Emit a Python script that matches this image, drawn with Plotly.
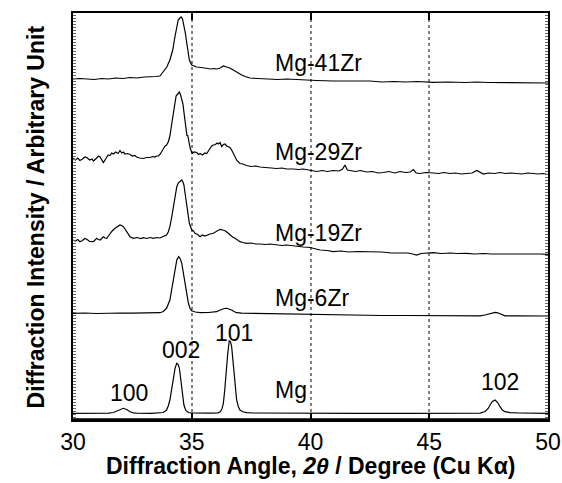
import plotly.graph_objects as go

# ---------------- data (2theta in degrees, intensity in arbitrary units, offset stacked) -------------
x41 = [30.0, 30.3, 30.6, 30.9, 31.2, 31.5, 31.8, 32.1, 32.4, 32.7, 33.0, 33.3, 33.5, 33.66, 33.8,
       33.95, 34.08, 34.2, 34.29, 34.36, 34.43, 34.5, 34.55, 34.61, 34.67, 34.73, 34.79, 34.85, 34.9,
       35.0, 35.1, 35.21, 35.4, 35.63, 35.8, 35.95, 36.05, 36.2, 36.33, 36.47, 36.6, 36.75, 36.9, 37.1,
       37.25, 37.45, 37.8, 38.15, 38.6, 39.0, 39.56, 40.26, 40.96, 41.5, 42.0, 42.5, 43.0, 43.5, 44.0,
       44.5, 45.17, 45.8, 46.5, 47.0, 47.5, 48.0, 48.5, 49.0, 49.5, 50.0]
y41 = [341, 341.5, 341, 340.5, 341.5, 341, 342, 341.5, 342.5, 342, 343, 343, 343.5, 344, 348,
       353, 360, 370, 383, 393, 400, 402, 403, 401, 395, 387, 377, 367, 360,
       355, 354, 353, 352.5, 352, 351, 351.5, 351, 352, 354, 353, 352, 350, 347.5, 345,
       343.5, 342, 341.5, 341, 340.5, 341, 340, 339.5, 339, 339, 338.5, 339, 338, 338.5, 338,
       338.5, 337.7, 338, 337.5, 338, 337.5, 337.5, 337, 337.5, 337, 337]

x29 = [30.0, 30.1, 30.2, 30.29, 30.4, 30.5, 30.58, 30.7, 30.8, 30.86, 31.0, 31.07, 31.14, 31.2, 31.28,
       31.4, 31.48, 31.56, 31.63, 31.7, 31.8, 31.9, 31.98, 32.05, 32.12, 32.19, 32.3, 32.4, 32.5, 32.6,
       32.68, 32.8, 32.96, 33.1, 33.24, 33.35, 33.45, 33.52, 33.6, 33.66, 33.74, 33.8, 33.88, 33.94,
       34.01, 34.08, 34.15, 34.22, 34.28, 34.34, 34.41, 34.48, 34.53, 34.58, 34.63, 34.67, 34.72, 34.76,
       34.8, 34.83, 34.88, 34.93, 35.02, 35.1, 35.21, 35.28, 35.35, 35.45, 35.55, 35.63, 35.7, 35.77,
       35.84, 35.91, 36.0, 36.06, 36.12, 36.19, 36.26, 36.33, 36.4, 36.47, 36.54, 36.61, 36.68, 36.75,
       36.82, 36.9, 37.03, 37.15, 37.31, 37.5, 37.7, 37.87, 38.1, 38.3, 38.58, 38.8, 39.0, 39.28, 39.5,
       39.7, 39.98, 40.26, 40.5, 40.7, 40.96, 41.2, 41.35, 41.45, 41.55, 41.67, 41.9, 42.1, 42.37, 42.6,
       42.85, 43.07, 43.3, 43.55, 43.77, 44.0, 44.2, 44.33, 44.45, 44.61, 44.85, 45.17, 45.4, 45.6,
       45.88, 46.1, 46.35, 46.58, 46.8, 47.0, 47.15, 47.28, 47.5, 47.75, 47.98, 48.2, 48.45, 48.68,
       48.9, 49.15, 49.38, 49.6, 49.8, 50.0]
y29 = [261.7, 260, 262, 259.5, 261, 263, 262.5, 260, 261, 259, 262, 264, 263, 260, 257.5,
       262, 265, 264.5, 267, 266, 268, 266.5, 269.5, 267, 268, 266, 266.5, 265.5, 264, 264.5,
       263, 262, 261.5, 262.5, 262.5, 263.5, 263, 264, 264, 265.5, 268, 271, 274, 275,
       278, 284, 295, 305, 318, 324, 326, 328, 325, 320, 316, 308, 298, 288,
       284, 285, 278, 272, 266.5, 268, 267.5, 265.5, 266.5, 265, 267, 266.5, 269, 272,
       274, 275, 275.5, 277, 276, 277.5, 273.5, 275.5, 276, 274, 273, 272.5, 270, 266.5,
       262, 259.5, 256.5, 256, 254.5, 253.5, 254, 253, 252.5, 252, 251.5, 252, 251, 251, 250.5,
       251, 250, 248.5, 249.5, 248.5, 249.5, 249, 251, 255, 250, 249.5, 248.5, 249.5, 248, 248.5,
       247, 247.5, 248.5, 247, 248.5, 247.5, 248, 250.5, 247, 246.5, 247.5, 247, 246.5, 247.5,
       246.5, 247, 246, 246.5, 247, 249.5, 248, 246, 247, 246.5, 247.5, 246.5, 247, 246.5,
       246, 247, 246.5, 246, 246.5, 245.5]

x19 = [30.0, 30.1, 30.2, 30.29, 30.4, 30.5, 30.58, 30.7, 30.86, 30.93, 31.0, 31.07, 31.14, 31.21,
       31.28, 31.35, 31.42, 31.49, 31.56, 31.65, 31.77, 31.88, 31.98, 32.05, 32.12, 32.19, 32.26,
       32.33, 32.4, 32.54, 32.7, 32.85, 32.96, 33.1, 33.24, 33.38, 33.52, 33.66, 33.8, 33.94, 34.01,
       34.08, 34.15, 34.22, 34.3, 34.37, 34.43, 34.48, 34.53, 34.58, 34.63, 34.67, 34.73, 34.79,
       34.85, 34.9, 35.0, 35.07, 35.14, 35.25, 35.35, 35.45, 35.55, 35.63, 35.77, 35.91, 36.05,
       36.19, 36.3, 36.4, 36.5, 36.61, 36.72, 36.82, 36.92, 37.03, 37.15, 37.31, 37.5, 37.7, 37.87,
       38.1, 38.3, 38.58, 38.8, 39.0, 39.28, 39.5, 39.7, 39.98, 40.2, 40.4, 40.7, 40.96, 41.3, 41.6,
       42.0, 42.37, 42.7, 43.0, 43.4, 43.77, 44.1, 44.3, 44.47, 44.65, 44.9, 45.17, 45.5, 45.9, 46.2,
       46.58, 46.9, 47.3, 47.6, 47.98, 48.3, 48.7, 49.0, 49.38, 49.7, 50.0]
y19 = [180, 179, 180.5, 178.3, 179.5, 181.5, 180.7, 178.5, 178.3, 180, 181.7, 180.5, 180, 181.5,
       183.3, 182, 181.7, 184, 186.7, 189, 191.7, 193.5, 195, 194.5, 193.3, 191, 188.3,
       185.5, 183.3, 181.7, 182.5, 181.5, 182.3, 181.5, 182.5, 181.7, 182.5, 182, 183.3, 185, 188,
       193.3, 202, 213.3, 225, 233.3, 237, 238.3, 239.5, 240, 238, 235, 225, 213.3,
       203, 196.7, 190, 189, 186.7, 185.5, 183.3, 185, 184, 185, 186, 186.7, 188.3,
       190.7, 190, 189.3, 187.5, 185, 183, 181.7, 180, 178.3, 177.5, 176.7, 177, 176, 176,
       175.5, 176, 175, 174.5, 175, 174, 173.5, 173, 172.5, 171, 170, 169.5, 168.3, 169, 168,
       168.5, 168.3, 167.5, 168, 167, 166.7, 167, 166, 165, 166.5, 167, 167.3, 166.5, 167, 166.5,
       166.7, 166, 166.5, 166, 166, 166.5, 166, 166.5, 166.7, 166, 165.7]

x6 = [30.0, 30.5, 31.0, 31.5, 32.0, 32.5, 33.0, 33.4, 33.66, 33.8, 33.94, 34.08, 34.15, 34.22, 34.3,
      34.37, 34.45, 34.52, 34.58, 34.65, 34.72, 34.79, 34.86, 34.93, 35.0, 35.15, 35.35, 35.7, 36.05,
      36.15, 36.26, 36.37, 36.47, 36.58, 36.68, 36.78, 36.89, 37.1, 37.31, 38.0, 38.7, 39.4, 40.0,
      41.0, 42.0, 43.0, 44.0, 45.0, 46.0, 46.8, 47.14, 47.35, 47.5, 47.65, 47.77, 47.88, 47.98, 48.1,
      48.19, 48.6, 49.2, 50.0]
y6 = [106.7, 107, 106.5, 107, 107, 106.8, 107.2, 107, 107.3, 108.5, 111.7, 120, 129, 140, 151,
      160, 163.3, 161, 156.7, 147, 136.7, 126, 116.7, 111.5, 109.3, 108, 107.3, 107.5, 108.3,
      109.5, 110.7, 111.5, 111.7, 111, 110, 108.5, 107.3, 106.8, 106.7, 106.3, 106, 105.5, 105.2,
      105, 104.8, 104.5, 104.5, 104.3, 104.3, 104.2, 104.2, 105, 106, 107.2, 107.7, 107.2, 106, 105,
      104.2, 104.1, 104, 104]

x0 = [30.0, 30.8, 31.5, 31.7, 31.84, 31.98, 32.12, 32.26, 32.4, 32.55, 32.68, 33.3, 33.66, 33.8,
      33.94, 34.01, 34.08, 34.15, 34.22, 34.3, 34.37, 34.43, 34.48, 34.53, 34.58, 34.63, 34.67, 34.75,
      34.86, 35.0, 35.35, 35.8, 36.1, 36.19, 36.27, 36.33, 36.39, 36.44, 36.51, 36.58, 36.63, 36.68,
      36.73, 36.78, 36.84, 36.89, 36.96, 37.03, 37.15, 37.31, 37.6, 38.5, 40.0, 42.0, 44.0, 46.0,
      47.14, 47.35, 47.48, 47.56, 47.66, 47.77, 47.88, 47.98, 48.08, 48.19, 48.4, 48.8, 49.3, 50.0]
y0 = [6.7, 6.7, 6.8, 7.5, 8.8, 10.5, 11.7, 10.5, 8.3, 7.2, 6.8, 6.7, 6.8, 7.5,
      10, 14, 20, 31, 43.3, 52, 56.7, 55.5, 51.7, 43, 33.3, 22, 15, 9.5,
      7.5, 7, 6.8, 6.9, 7.2, 8, 11, 16.7, 30, 46.7, 65, 79.3, 78.5, 73.3,
      61, 46.7, 31, 20, 13.5, 10, 8.2, 7.3, 7, 6.8, 6.7, 6.7, 6.7, 6.7,
      6.9, 8.5, 11.5, 15, 18.5, 20, 17.5, 13.3, 10, 8.3, 7.3, 7, 6.8, 6.7]

series_x = [x41, x29, x19, x6, x0]
series_y = [y41, y29, y19, y6, y0]

sample_names = ["Mg-41Zr", "Mg-29Zr", "Mg-19Zr", "Mg-6Zr", "Mg"]
sample_label_x = [38.4, 38.4, 38.4, 38.4, 38.4]
sample_label_y = [357, 268, 187.5, 122.5, 30.5]

peak_names = ["100", "002", "101", "102"]
peak_x = [32.34, 34.55, 36.76, 47.98]
peak_y = [27.5, 70.5, 87.5, 38]

x_ticks = [30, 35, 40, 45, 50]
x_range = [30, 50]
y_range = [0, 407]

FONT = "Liberation Sans, Arial, sans-serif"
FS = 23

fig = go.Figure()
for xs, ys, nm in zip(series_x, series_y, sample_names):
    fig.add_trace(go.Scatter(x=xs, y=ys, mode="lines", name=nm,
                             line=dict(color="black", width=1.2), showlegend=False))

annotations = []
for nm, lx, ly in zip(sample_names, sample_label_x, sample_label_y):
    annotations.append(dict(x=lx, y=ly, xref="x", yref="y", text=nm, showarrow=False,
                            xanchor="left", yanchor="middle",
                            font=dict(family=FONT, size=FS, color="black")))
for nm, px, py in zip(peak_names, peak_x, peak_y):
    annotations.append(dict(x=px, y=py, xref="x", yref="y", text=nm, showarrow=False,
                            xanchor="center", yanchor="middle",
                            font=dict(family=FONT, size=FS, color="black")))
annotations.append(dict(x=0.5, y=-0.113, xref="paper", yref="paper",
                        text="<b>Diffraction Angle, <i>2θ</i> / Degree (Cu Kα)</b>",
                        showarrow=False, xanchor="center", yanchor="middle",
                        font=dict(family=FONT, size=FS, color="black")))
annotations.append(dict(x=-0.078, y=0.5, xref="paper", yref="paper",
                        text="<b>Diffraction Intensity / Arbitrary Unit</b>", textangle=-90,
                        showarrow=False, xanchor="center", yanchor="middle",
                        font=dict(family=FONT, size=FS, color="black")))

fig.update_layout(
    width=562, height=483,
    margin=dict(l=73, r=14, t=13, b=63, autoexpand=False),
    paper_bgcolor="white", plot_bgcolor="white",
    annotations=annotations,
    shapes=[dict(type="line", xref="paper", yref="paper", x0=0, x1=1, y0=0, y1=0,
                 line=dict(color="black", width=3.5))],
    xaxis=dict(range=x_range, tickvals=x_ticks, ticktext=[str(t) for t in x_ticks],
               automargin=False,
               showgrid=True, gridcolor="#808080", griddash="dot", gridwidth=1.5,
               zeroline=False, showline=True, linecolor="black", linewidth=2, mirror="ticks",
               ticks="inside", ticklen=7, tickwidth=1.5, tickcolor="black",
               tickfont=dict(family=FONT, size=FS, color="black")),
    yaxis=dict(range=y_range, automargin=False, showgrid=False, zeroline=False,
               showticklabels=False,
               showline=True, linecolor="black", linewidth=1.5, mirror="ticks",
               ticks="inside", ticklen=3, tickwidth=1, tickcolor="#666", dtick=3),
)

fig.write_html("out.html")
